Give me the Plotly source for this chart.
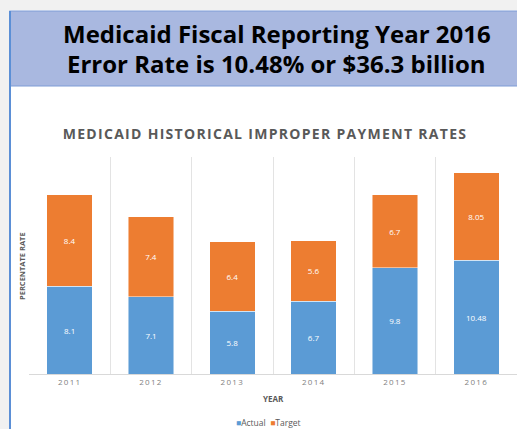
import plotly.graph_objects as go

years = ["2011", "2012", "2013", "2014", "2015", "2016"]
actual = [8.1, 7.1, 5.8, 6.7, 9.8, 10.48]
target = [8.4, 7.4, 6.4, 5.6, 6.7, 8.05]
series_names = ["Actual", "Target"]
series_colors = ["#5b9bd5", "#ed7d31"]

W, H = 517, 429
L, R, T, B = 29, 0, 157, 55
PW = W - L - R
PH = H - T - B


def px(x):
    return (x - L) / PW


def py(y):
    return (H - B - y) / PH


fig = go.Figure()
for name, vals, col in zip(series_names, [actual, target], series_colors):
    fig.add_trace(go.Bar(
        x=years, y=vals, name=name,
        marker=dict(color=col, line=dict(color="rgba(255,255,255,0.6)", width=0.8)),
        texttemplate="%{y}", textposition="inside", insidetextanchor="middle",
        textangle=0, textfont=dict(color="white", size=8, family="Open Sans"),
        showlegend=False,
    ))

shapes = [
    dict(type="rect", xref="paper", yref="paper", x0=px(10), x1=px(W + 5), y0=py(10), y1=py(H + 5),
         fillcolor="white", line=dict(width=0), layer="below"),
    dict(type="rect", xref="paper", yref="paper", x0=px(10), x1=px(W + 5), y0=py(11), y1=py(86),
         fillcolor="#a9b8e0", line=dict(color="#7f9bd6", width=1.2), layer="below"),
    dict(type="line", xref="paper", yref="paper", x0=px(10), x1=px(10), y0=py(11), y1=py(H + 5),
         line=dict(color="#5b8fd6", width=2), layer="below"),
]

legend_text = "&nbsp;&nbsp;".join(
    f"<span style='color:{c}'>■</span>{n}" for n, c in zip(series_names, series_colors)
)

annotations = [
    dict(text="Medicaid Fiscal Reporting Year 2016", x=px(277), y=py(33), xref="paper", yref="paper",
         showarrow=False, xanchor="center", yanchor="middle",
         font=dict(family="Open Sans", size=24, color="black", weight="bold")),
    dict(text="Error Rate is 10.48% or $36.3 billion", x=px(276), y=py(63), xref="paper", yref="paper",
         showarrow=False, xanchor="center", yanchor="middle",
         font=dict(family="Open Sans", size=24, color="black", weight="bold")),
    dict(text="MEDICAID HISTORICAL IMPROPER PAYMENT RATES", x=px(265), y=py(133), xref="paper", yref="paper",
         showarrow=False, xanchor="center", yanchor="middle",
         font=dict(family="Open Sans", size=14, color="#595959", weight="bold")),
    dict(text="PERCENTATE RATE", x=px(22), y=py(266), xref="paper", yref="paper", textangle=-90,
         showarrow=False, xanchor="center", yanchor="middle",
         font=dict(family="Open Sans", size=7.5, color="#595959", weight="bold")),
    dict(text="YEAR", x=px(273), y=py(398), xref="paper", yref="paper",
         showarrow=False, xanchor="center", yanchor="middle",
         font=dict(family="Open Sans", size=8, color="#595959", weight="bold")),
    dict(text=legend_text, x=px(268), y=py(422), xref="paper", yref="paper",
         showarrow=False, xanchor="center", yanchor="middle",
         font=dict(family="Open Sans", size=8.5, color="#595959")),
]

fig.update_layout(
    width=W, height=H,
    margin=dict(l=L, r=R, t=T, b=B, pad=0),
    barmode="stack", bargap=0.44,
    paper_bgcolor="#f1f1f1", plot_bgcolor="white",
    showlegend=False,
    shapes=shapes, annotations=annotations,
    xaxis=dict(type="category", range=[-0.5, 5.5], tickson="boundaries", showgrid=True,
               gridcolor="#e3e3e3", gridwidth=1, showline=True, linecolor="#d9d9d9", linewidth=1,
               ticks="", tickfont=dict(family="Open Sans", size=8, color="#7f7f7f"), zeroline=False),
    yaxis=dict(range=[0, 20], showgrid=False, showticklabels=False, ticks="", zeroline=False,
               showline=False),
)

post = """
document.body.style.margin='0';
document.body.style.overflow='hidden';
document.querySelectorAll('.annotation-text').forEach(function(t){
  if (t.textContent.indexOf('MEDICAID') === 0) { t.setAttribute('letter-spacing', '1.3px'); }
});
document.querySelectorAll('.xtick text').forEach(function(t){ t.setAttribute('letter-spacing', '1.3px'); });
"""

fig.write_html("out.html", post_script=post, config={"displayModeBar": False})
